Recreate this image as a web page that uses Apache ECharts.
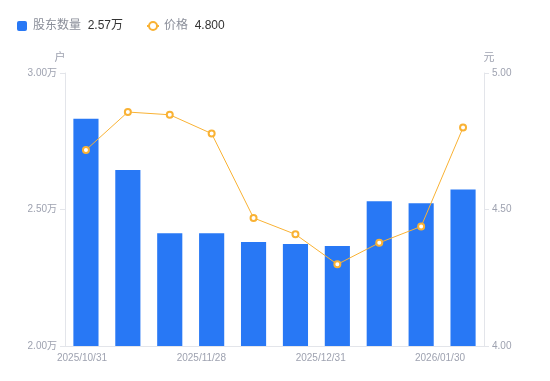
<!DOCTYPE html>
<html><head><meta charset="utf-8">
<script src="https://cdn.jsdelivr.net/npm/echarts@6/dist/echarts.min.js"></script>
<style>html,body{margin:0;padding:0;background:#fff}#c{width:550px;height:381px}</style>
</head><body><div id="c"></div>
<script>
var categories = ['2025/10/31','2025/11/10','2025/11/20','2025/11/28','2025/12/10','2025/12/19','2025/12/31','2026/01/09','2026/01/20','2026/01/30'];
var holders = [28320, 26450, 24130, 24130, 23810, 23740, 23660, 25300, 25230, 25730];
var prices = [4.718, 4.857, 4.847, 4.778, 4.469, 4.409, 4.299, 4.378, 4.438, 4.800];
var leftTicks = {min: 20000, max: 30000, interval: 5000};
var rightTicks = {min: 4.0, max: 5.0, interval: 0.5};

var FONT = 'Liberation Sans, Noto Sans CJK SC, sans-serif';
var labelColor = '#9ea2b0';
var lineColor = '#e3e5ea';
var chart = echarts.init(document.getElementById('c'));
var lastHolders = (holders[holders.length-1]/10000).toFixed(2) + '万';
var lastPrice = prices[prices.length-1].toFixed(3);
chart.setOption({
  animation: false,
  textStyle: {fontFamily: FONT},
  legend: {
    left: 12, top: 15, itemWidth: 12, itemHeight: 10, itemGap: 23, symbolKeepAspect: true,
    data: [{name: '股东数量', icon: 'path://M2,0h6a2,2 0 0 1 2,2v6a2,2 0 0 1 -2,2h-6a2,2 0 0 1 -2,-2v-6a2,2 0 0 1 2,-2z'}, {name: '价格'}],
    formatter: function(n){ return '{n|' + n + '}  {v|' + (n === '股东数量' ? lastHolders : lastPrice) + '}'; },
    textStyle: {rich: {n: {color: '#8a8e99', fontSize: 12, fontFamily: FONT}, v: {color: '#333', fontSize: 12, fontFamily: FONT}}}
  },
  grid: [
    {left: 65, right: 66, top: 73, bottom: 35},
    {left: 82, right: 110, top: 73, bottom: 35}
  ],
  xAxis: [
    {type: 'category', gridIndex: 0, data: categories,
     axisLine: {lineStyle: {color: lineColor}}, axisTick: {show: false}, axisLabel: {show: false}},
    {type: 'category', gridIndex: 1, data: categories, boundaryGap: false,
     axisLine: {show: false}, axisTick: {show: false},
     axisLabel: {interval: 2, color: labelColor, fontSize: 10, margin: 7, fontFamily: FONT}}
  ],
  yAxis: [
    {type: 'value', gridIndex: 0, min: leftTicks.min, max: leftTicks.max, interval: leftTicks.interval,
     name: '户', nameTextStyle: {color: labelColor, fontSize: 11, padding: [0, 10, 0, 0]}, nameGap: 10,
     axisLine: {show: true, lineStyle: {color: lineColor}}, axisTick: {show: true, length: 5, lineStyle: {color: lineColor}},
     splitLine: {show: false},
     axisLabel: {color: labelColor, fontSize: 10, margin: 8, formatter: function(v){ return (v/10000).toFixed(2) + '万'; }}},
    {type: 'value', gridIndex: 0, min: rightTicks.min, max: rightTicks.max, interval: rightTicks.interval,
     name: '元', nameTextStyle: {color: labelColor, fontSize: 11, padding: [0, 0, 0, 10]}, nameGap: 10,
     axisLine: {show: true, lineStyle: {color: lineColor}}, axisTick: {show: true, length: 5, lineStyle: {color: lineColor}},
     splitLine: {show: false},
     axisLabel: {color: labelColor, fontSize: 10, margin: 8, formatter: function(v){ return v.toFixed(2); }}},
    {type: 'value', gridIndex: 1, show: false}
  ],
  series: [
    {name: '股东数量', type: 'bar', xAxisIndex: 0, yAxisIndex: 0, data: holders, barWidth: '60%',
     itemStyle: {color: '#2878f5'}},
    {name: '价格', type: 'line', xAxisIndex: 0, yAxisIndex: 1, data: prices,
     symbol: 'emptyCircle', symbolSize: 6,
     lineStyle: {color: '#f9b234', width: 1}, itemStyle: {color: '#f9b234', borderWidth: 2}}
  ]
});
</script></body></html>
